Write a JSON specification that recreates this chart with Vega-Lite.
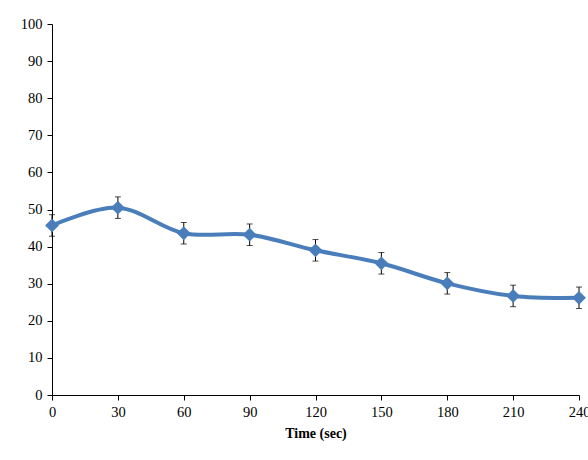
{
  "$schema": "https://vega.github.io/schema/vega-lite/v6.json",
  "autosize": "none",
  "width": 527,
  "height": 371,
  "padding": {"left": 52, "top": 24, "right": 9, "bottom": 65},
  "background": "white",
  "config": {
    "view": {"stroke": null},
    "font": "Liberation Serif",
    "axis": {
      "grid": false,
      "domainColor": "#000000",
      "tickColor": "#000000",
      "labelColor": "#000000",
      "titleColor": "#000000",
      "labelFont": "Liberation Serif",
      "titleFont": "Liberation Serif",
      "labelFontSize": 14.5,
      "titleFontSize": 14,
      "tickSize": 5,
      "domainWidth": 1,
      "tickWidth": 1,
      "labelOverlap": false
    }
  },
  "data": {
    "values": [
      {"t": 0, "v": 45.7, "e": 2.9},
      {"t": 30, "v": 50.5, "e": 2.9},
      {"t": 60, "v": 43.6, "e": 2.9},
      {"t": 90, "v": 43.2, "e": 2.9},
      {"t": 120, "v": 39.0, "e": 2.9},
      {"t": 150, "v": 35.5, "e": 2.9},
      {"t": 180, "v": 30.1, "e": 2.9},
      {"t": 210, "v": 26.7, "e": 2.9},
      {"t": 240, "v": 26.2, "e": 2.9}
    ]
  },
  "transform": [
    {"calculate": "datum.v - datum.e", "as": "lo"},
    {"calculate": "datum.v + datum.e", "as": "hi"}
  ],
  "encoding": {
    "x": {
      "field": "t",
      "type": "quantitative",
      "scale": {"domain": [0, 240], "nice": false},
      "axis": {"values": [0, 30, 60, 90, 120, 150, 180, 210, 240], "title": "Time (sec)", "titleFontWeight": "bold", "labelPadding": 5, "titlePadding": 8, "labelFlush": false}
    }
  },
  "layer": [
    {
      "mark": {"type": "rule", "color": "#000000", "strokeWidth": 1},
      "encoding": {
        "y": {"field": "lo", "type": "quantitative", "scale": {"domain": [0, 100], "nice": false}, "axis": {"values": [0, 10, 20, 30, 40, 50, 60, 70, 80, 90, 100], "title": null, "labelPadding": 5}},
        "y2": {"field": "hi"}
      }
    },
    {
      "mark": {"type": "tick", "color": "#000000", "orient": "horizontal", "size": 6, "thickness": 1},
      "encoding": {"y": {"field": "lo", "type": "quantitative", "axis": {"values": [0, 10, 20, 30, 40, 50, 60, 70, 80, 90, 100], "title": null, "labelPadding": 5}}}
    },
    {
      "mark": {"type": "tick", "color": "#000000", "orient": "horizontal", "size": 6, "thickness": 1},
      "encoding": {"y": {"field": "hi", "type": "quantitative", "axis": {"values": [0, 10, 20, 30, 40, 50, 60, 70, 80, 90, 100], "title": null, "labelPadding": 5}}}
    },
    {
      "mark": {"type": "line", "color": "#4A7EBB", "strokeWidth": 4, "interpolate": "catmull-rom"},
      "encoding": {"y": {"field": "v", "type": "quantitative", "axis": {"values": [0, 10, 20, 30, 40, 50, 60, 70, 80, 90, 100], "title": null, "labelPadding": 5}}}
    },
    {
      "mark": {"type": "point", "shape": "diamond", "filled": true, "color": "#4A7EBB", "size": 190, "opacity": 1},
      "encoding": {"y": {"field": "v", "type": "quantitative", "axis": {"values": [0, 10, 20, 30, 40, 50, 60, 70, 80, 90, 100], "title": null, "labelPadding": 5}}}
    }
  ]
}
